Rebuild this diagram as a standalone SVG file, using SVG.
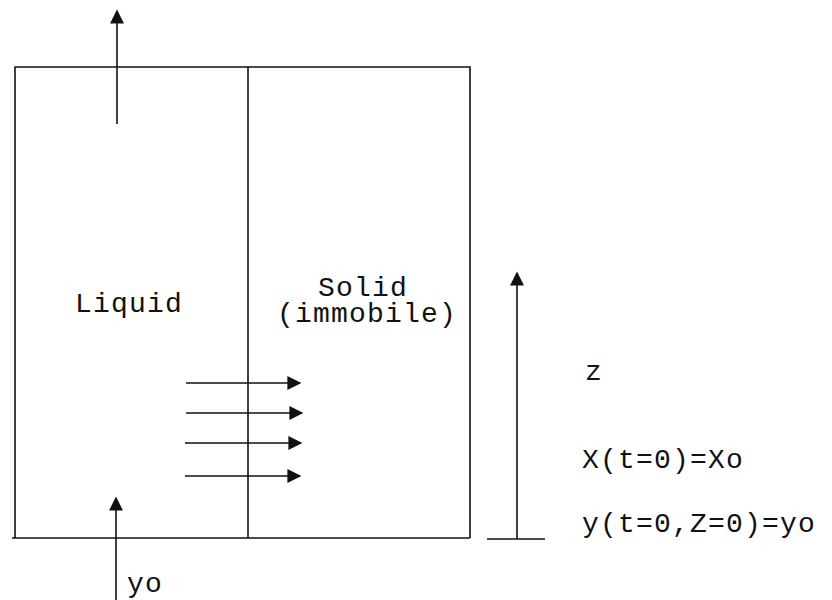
<svg xmlns="http://www.w3.org/2000/svg" width="832" height="600" viewBox="0 0 832 600">
<defs>
<style>
.ln{stroke:#111;stroke-width:1.6;fill:none}
.t{font-family:"Liberation Mono","Courier New",monospace;font-size:28px;fill:#111;letter-spacing:1.2px}
</style>
<marker id="ahb" viewBox="0 0 10 10" refX="9" refY="5" markerWidth="15" markerHeight="14" markerUnits="userSpaceOnUse" orient="auto">
<path d="M0,0 L10,5 L0,10 Z" fill="#111"/>
</marker>
</defs>
<rect width="832" height="600" fill="#fff"/>
<g id="column">
<path class="ln" d="M15,538 L15,67 L470,67 L470,538"/>
<line class="ln" x1="12" y1="538" x2="470" y2="538"/>
</g>
<g id="divider"><line class="ln" x1="248" y1="67" x2="248" y2="538"/></g>
<g id="liquid"><text class="t" x="75" y="312">Liquid</text></g>
<g id="solid">
<text class="t" x="318" y="296">Solid</text>
<text class="t" x="277" y="322">(immobile)</text>
</g>
<g id="zaxis">
<line class="ln" x1="487" y1="539" x2="545" y2="539"/>
</g>
<g id="labels">
<text class="t" x="585" y="380">z</text>
<text class="t" x="582" y="468">X(t=0)=Xo</text>
<text class="t" x="582" y="532">y(t=0,Z=0)=yo</text>
<text class="t" x="127" y="592">yo</text>
</g>
<g id="connectors">
<line class="ln" x1="117" y1="124" x2="117" y2="11" marker-end="url(#ahb)"/>
<line class="ln" x1="116" y1="600" x2="116" y2="498" marker-end="url(#ahb)"/>
<line class="ln" x1="517" y1="539" x2="517" y2="273" marker-end="url(#ahb)"/>
<line class="ln" x1="186" y1="383" x2="300" y2="383" marker-end="url(#ahb)"/>
<line class="ln" x1="186" y1="413" x2="302" y2="413" marker-end="url(#ahb)"/>
<line class="ln" x1="185" y1="443" x2="301" y2="443" marker-end="url(#ahb)"/>
<line class="ln" x1="185" y1="476" x2="300" y2="476" marker-end="url(#ahb)"/>
</g>
</svg>
